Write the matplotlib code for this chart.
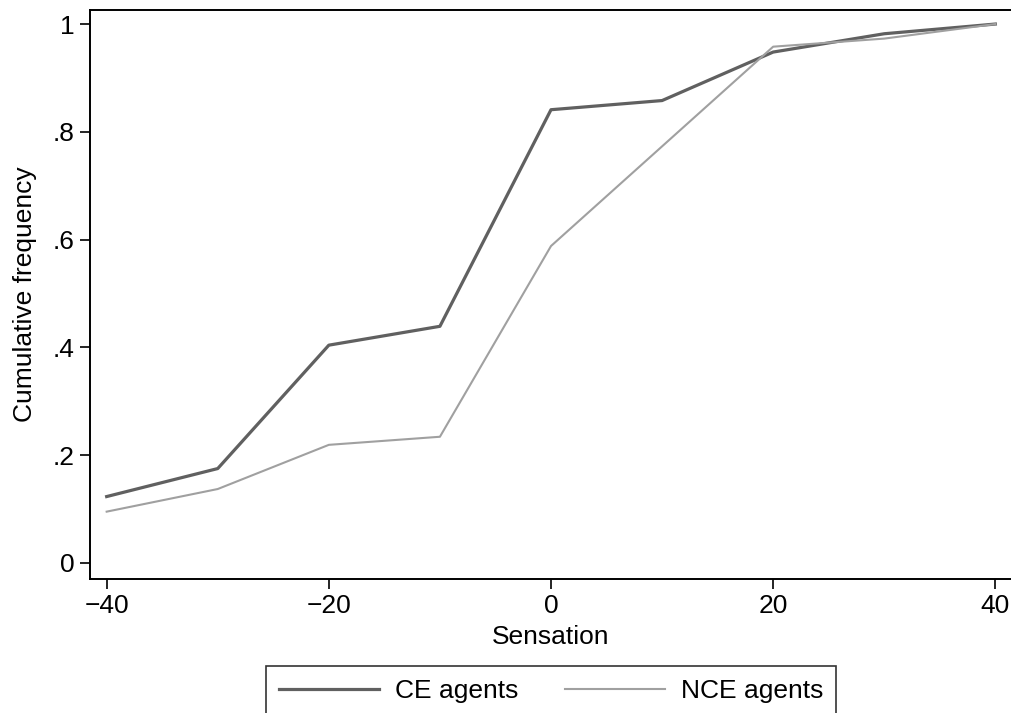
import matplotlib
matplotlib.use('Agg')
import matplotlib.pyplot as plt
import numpy as np

# Data
sensation = [-40, -30, -20, -10, 0, 10, 20, 30, 40]
ce_agents = [0.123, 0.175, 0.404, 0.439, 0.841, 0.858, 0.948, 0.982, 1.0]
nce_agents = [0.095, 0.137, 0.219, 0.234, 0.588, 0.773, 0.958, 0.973, 1.0]

x_ticks = [-40, -20, 0, 20, 40]
y_ticks = [0, 0.2, 0.4, 0.6, 0.8, 1.0]
y_ticklabels = ['0', '.2', '.4', '.6', '.8', '1']

plt.rcParams['font.family'] = ['Liberation Sans', 'DejaVu Sans']
plt.rcParams['font.size'] = 19

fig = plt.figure(figsize=(10.11, 7.13), dpi=100)
ax = fig.add_axes([90/1011, 1-579/713, 922/1011, (579-9.5)/713])

ax.plot(sensation, ce_agents, color='#606060', lw=2.3, label='CE agents')
ax.plot(sensation, nce_agents, color='#a0a0a0', lw=1.5, label='NCE agents')

ax.set_xlim(-41.5, 41.5)
ax.set_ylim(-0.030, 1.027)
ax.set_xticks(x_ticks)
ax.set_yticks(y_ticks)
ax.set_yticklabels(y_ticklabels)
ax.tick_params(direction='out', length=7, width=1.2, pad=4)
for s in ax.spines.values():
    s.set_linewidth(1.4)

ax.set_xlabel('Sensation', labelpad=5)
ax.set_ylabel('Cumulative frequency', labelpad=11)

leg = fig.legend(loc='upper center', bbox_to_anchor=(551/1011, 1-666/713),
                 ncol=2, frameon=True, fancybox=False, edgecolor='black',
                 handlelength=3.8, handletextpad=0.6, columnspacing=1.75,
                 borderpad=0.5, borderaxespad=0)
leg.get_frame().set_linewidth(1.2)

fig.savefig('out.png', dpi=100)
